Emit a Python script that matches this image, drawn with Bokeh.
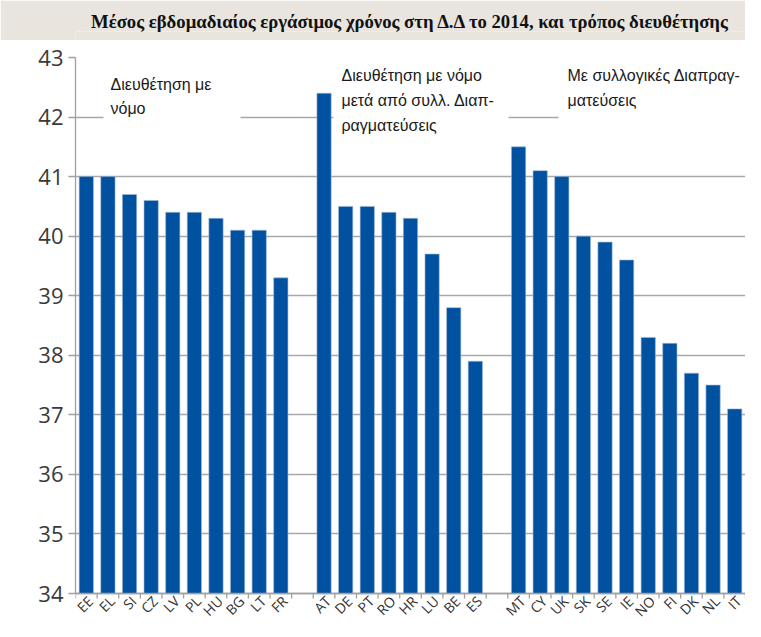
import math
from bokeh.plotting import figure
from bokeh.layouts import column
from bokeh.models import Range1d, FixedTicker, BoxAnnotation, Label, LabelSet, ColumnDataSource, Span
from bokeh.core.properties import value
from bokeh.embed import file_html
from bokeh.resources import INLINE

title_text = "Μέσος εβδομαδιαίος εργάσιμος χρόνος στη Δ.Δ το 2014, και τρόπος διευθέτησης"

group1_names = ["EE", "EL", "SI", "CZ", "LV", "PL", "HU", "BG", "LT", "FR"]
group1_values = [41.0, 41.0, 40.7, 40.6, 40.4, 40.4, 40.3, 40.1, 40.1, 39.3]
group2_names = ["AT", "DE", "PT", "RO", "HR", "LU", "BE", "ES"]
group2_values = [42.4, 40.5, 40.5, 40.4, 40.3, 39.7, 38.8, 37.9]
group3_names = ["MT", "CY", "UK", "SK", "SE", "IE", "NO", "FI", "DK", "NL", "IT"]
group3_values = [41.5, 41.1, 41.0, 40.0, 39.9, 39.6, 38.3, 38.2, 37.7, 37.5, 37.1]

group_labels = [
    ["Διευθέτηση με", "νόμο"],
    ["Διευθέτηση με νόμο", "μετά από συλλ. Διαπ-", "ραγματεύσεις"],
    ["Με συλλογικές Διαπραγ-", "ματεύσεις"],
]
y_ticks = [34, 35, 36, 37, 38, 39, 40, 41, 42, 43]
Y_MIN, Y_MAX = 34, 43

# positions: one empty slot between groups
xs, tops, names = [], [], []
pos = 0
for gn, gv in [(group1_names, group1_values), (group2_names, group2_values), (group3_names, group3_values)]:
    for n, v in zip(gn, gv):
        xs.append(pos); tops.append(v); names.append(n)
        pos += 1
    pos += 1
n_slots = pos - 1  # 31

W = 745
HEAD_H = 40
MAIN_H = 621 - HEAD_H
LEFT = 75
TOP_BORDER = 17
BAND = "#e9e5de"
GRAY = "#a0a0a0"

FRAME_TOP = HEAD_H + TOP_BORDER
FRAME_BOT = HEAD_H + MAIN_H
AXIS_Y = 593  # pixel row of the value axis baseline
UNIT = (AXIS_Y - FRAME_TOP) / float(Y_MAX - Y_MIN)
Y_START = Y_MIN - (FRAME_BOT - AXIS_Y) / UNIT
SLOT = (W - LEFT) / n_slots

# ---- header band with title ----
head = figure(width=W, height=HEAD_H, output_backend="svg", toolbar_location=None,
              x_range=Range1d(0, 1), y_range=Range1d(0, 1), title=title_text,
              min_border_left=0, min_border_right=0, min_border_top=31, min_border_bottom=0,
              x_axis_type=None, y_axis_type=None)
head.outline_line_color = None
head.grid.visible = False
head.background_fill_color = BAND
head.border_fill_color = BAND
head.title.text_font = "Liberation Serif"
head.title.text_font_style = "bold"
head.title.text_font_size = "18.7px"
head.title.text_color = "#111111"
head.title.align = "center"
head.title.offset = 60
head.title.standoff = 0

# ---- main chart ----
p = figure(width=W, height=MAIN_H, output_backend="svg", toolbar_location=None,
           x_range=Range1d(-0.5, n_slots - 0.5), y_range=Range1d(Y_START, Y_MAX),
           min_border_left=LEFT, min_border_right=0, min_border_top=TOP_BORDER, min_border_bottom=0)
p.outline_line_color = None
p.background_fill_color = "white"
p.border_fill_color = "white"

p.xaxis.visible = False
p.xgrid.visible = False
p.ygrid.grid_line_color = "#a8a8a8"
p.ygrid.grid_line_width = 1.3
p.ygrid.ticker = FixedTicker(ticks=y_ticks)
p.ygrid.bounds = (-0.5, n_slots - 0.5)

p.vbar(x=xs, top=tops, bottom=Y_MIN, width=0.66, fill_color="#0052a0", line_color="#9fb8d6", line_width=0.6)

# category axis baseline and tick marks between categories
p.add_layout(Span(location=Y_MIN, dimension="width", line_color=GRAY, line_width=1.3))
bounds_x = [i - 0.5 for i in range(n_slots + 1)]
tick_len = 5 / UNIT
p.segment(x0=bounds_x, y0=[Y_MIN] * len(bounds_x), x1=bounds_x, y1=[Y_MIN - tick_len] * len(bounds_x),
          line_color=GRAY, line_width=1.3)

def dx(wx):
    return (wx - LEFT) / SLOT - 0.5
def dy(wy):
    return Y_MAX - (wy - FRAME_TOP) / UNIT

boxes = [(103, 240, 60, 170), (333, 508, 40, 140), (558, 770, 40, 140)]
for l, r, t, b in boxes:
    p.add_layout(BoxAnnotation(left=dx(l), right=dx(r), top=dy(t), bottom=dy(b),
                               fill_color="white", fill_alpha=1.0, line_color=None))

label_pos = [(110, [84, 108]), (341, [75, 100, 125]), (567, [75, 100])]
for (lx, lys), lines in zip(label_pos, group_labels):
    for ly, txt in zip(lys, lines):
        p.add_layout(Label(x=dx(lx), y=dy(ly), text=txt, text_font="Liberation Sans",
                           text_font_size="16px", text_color="#1a1a1a", text_baseline="middle"))

ax = p.yaxis[0]
ax.ticker = FixedTicker(ticks=y_ticks)
ax.bounds = (Y_MIN, Y_MAX)
ax.major_label_text_font = "Open Sans"
ax.major_label_text_font_size = "22px"
ax.major_label_text_color = "#3a3a3a"
ax.axis_line_color = GRAY
ax.axis_line_width = 1.3
ax.major_tick_line_color = GRAY
ax.major_tick_line_width = 1.3
ax.major_tick_out = 7
ax.major_tick_in = 0
ax.minor_tick_line_color = None
ax.major_label_standoff = 5

# rotated category labels under the baseline
src = ColumnDataSource(data=dict(x=xs, y=[Y_MIN - 5 / UNIT] * len(xs), name=names))
p.add_layout(LabelSet(x="x", y="y", text="name", source=src, angle=math.pi / 4,
                      x_offset=4, text_align="right", text_baseline="middle",
                      text_font=value("Open Sans"), text_font_size=value("14px"),
                      text_color="#333333"))

layout = column(head, p, spacing=0)
open("out.html", "w").write(file_html(layout, INLINE))
